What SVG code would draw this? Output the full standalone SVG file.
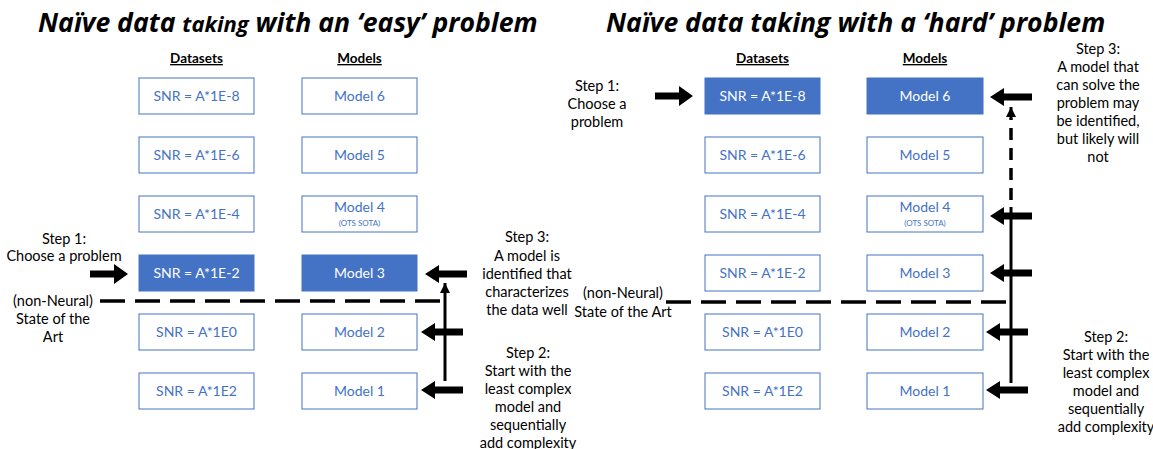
<svg xmlns="http://www.w3.org/2000/svg" width="1153" height="449" viewBox="0 0 1153 449">
  <style>
    .title { font-family: "Open Sans", "Noto Sans", sans-serif; font-weight: bold; font-style: italic; font-size: 26.6px; fill: #000; }
    .head { font-family: "Lato", "Open Sans", sans-serif; font-weight: bold; font-size: 13.5px; fill: #000; text-decoration: underline; text-anchor: middle; }
    .note { font-family: "Lato", "Open Sans", sans-serif; font-size: 14.5px; fill: #000; text-anchor: middle; }
    .box { fill: #fff; stroke: #4472C4; stroke-width: 1; }
    .box.on { fill: #4472C4; }
    .lbl { font-family: "Lato", "Open Sans", sans-serif; font-size: 14px; fill: #4472C4; text-anchor: middle; }
    .lbl.on { fill: #fff; }
    .small { font-family: "Lato", "Open Sans", sans-serif; font-size: 8px; fill: #4472C4; text-anchor: middle; }
    .dash { stroke: #000; stroke-width: 3.5; stroke-dasharray: 25 10; fill: none; }
    .vdash { stroke: #000; stroke-width: 3.5; stroke-dasharray: 12 8; fill: none; }
    .solid { stroke: #000; stroke-width: 3; fill: none; }
    .arrow { fill: #000; }
  </style>
  <defs>
    <!-- block arrow pointing left, tip at origin -->
    <polygon id="arrL" points="0,0 14,-9 14,-3.5 42,-3.5 42,3.5 14,3.5 14,9"/>
    <!-- block arrow pointing right, tip at origin -->
    <polygon id="arrR" points="0,0 -14,-10 -14,-3.5 -38,-3.5 -38,3.5 -14,3.5 -14,10"/>
    <!-- small head at the end of a climbing line -->
    <marker id="up" viewBox="0 0 10 10" refX="10" refY="5" markerWidth="10" markerHeight="10" markerUnits="userSpaceOnUse" orient="auto">
      <polygon points="0,0 10,5 0,10" fill="#000"/>
    </marker>
  </defs>

  <!-- titles -->
  <text class="title" x="38" y="32">Naïve data <tspan font-size="22">taking</tspan> with an ‘easy’ problem</text>
  <text class="title" x="606" y="32">Naïve data taking with a ‘hard’ problem</text>

  <!-- column headings -->
  <text class="head" x="196.5" y="63">Datasets</text>
  <text class="head" x="359.5" y="63">Models</text>
  <text class="head" x="762.5" y="63">Datasets</text>
  <text class="head" x="925" y="63">Models</text>

  <!-- left panel: datasets -->
  <g id="l-ds-8"><rect class="box" x="139" y="78" width="115" height="36"/><text class="lbl" x="196.5" y="101">SNR = A*1E-8</text></g>
  <g id="l-ds-6"><rect class="box" x="139" y="137" width="115" height="36"/><text class="lbl" x="196.5" y="160">SNR = A*1E-6</text></g>
  <g id="l-ds-4"><rect class="box" x="139" y="196" width="115" height="36"/><text class="lbl" x="196.5" y="219">SNR = A*1E-4</text></g>
  <g id="l-ds-2"><rect class="box on" x="139" y="255" width="115" height="36"/><text class="lbl on" x="196.5" y="278">SNR = A*1E-2</text></g>
  <g id="l-ds0"><rect class="box" x="139" y="314" width="115" height="36"/><text class="lbl" x="196.5" y="337">SNR = A*1E0</text></g>
  <g id="l-ds2"><rect class="box" x="139" y="373" width="115" height="36"/><text class="lbl" x="196.5" y="396">SNR = A*1E2</text></g>

  <!-- left panel: models -->
  <g id="l-m6"><rect class="box" x="302" y="78" width="115" height="36"/><text class="lbl" x="359.5" y="101">Model 6</text></g>
  <g id="l-m5"><rect class="box" x="302" y="137" width="115" height="36"/><text class="lbl" x="359.5" y="160">Model 5</text></g>
  <g id="l-m4"><rect class="box" x="302" y="196" width="115" height="36"/><text class="lbl" x="359.5" y="212">Model 4</text><text class="small" x="359.5" y="226">(OTS SOTA)</text></g>
  <g id="l-m3"><rect class="box on" x="302" y="255" width="115" height="36"/><text class="lbl on" x="359.5" y="278">Model 3</text></g>
  <g id="l-m2"><rect class="box" x="302" y="314" width="115" height="36"/><text class="lbl" x="359.5" y="337">Model 2</text></g>
  <g id="l-m1"><rect class="box" x="302" y="373" width="115" height="36"/><text class="lbl" x="359.5" y="396">Model 1</text></g>

  <!-- right panel: datasets -->
  <g id="r-ds-8"><rect class="box on" x="705" y="78" width="115" height="36"/><text class="lbl on" x="762.5" y="101">SNR = A*1E-8</text></g>
  <g id="r-ds-6"><rect class="box" x="705" y="137" width="115" height="36"/><text class="lbl" x="762.5" y="160">SNR = A*1E-6</text></g>
  <g id="r-ds-4"><rect class="box" x="705" y="196" width="115" height="36"/><text class="lbl" x="762.5" y="219">SNR = A*1E-4</text></g>
  <g id="r-ds-2"><rect class="box" x="705" y="255" width="115" height="36"/><text class="lbl" x="762.5" y="278">SNR = A*1E-2</text></g>
  <g id="r-ds0"><rect class="box" x="705" y="314" width="115" height="36"/><text class="lbl" x="762.5" y="337">SNR = A*1E0</text></g>
  <g id="r-ds2"><rect class="box" x="705" y="373" width="115" height="36"/><text class="lbl" x="762.5" y="396">SNR = A*1E2</text></g>

  <!-- right panel: models -->
  <g id="r-m6"><rect class="box on" x="867" y="78" width="116" height="36"/><text class="lbl on" x="925" y="101">Model 6</text></g>
  <g id="r-m5"><rect class="box" x="867" y="137" width="116" height="36"/><text class="lbl" x="925" y="160">Model 5</text></g>
  <g id="r-m4"><rect class="box" x="867" y="196" width="116" height="36"/><text class="lbl" x="925" y="212">Model 4</text><text class="small" x="925" y="226">(OTS SOTA)</text></g>
  <g id="r-m3"><rect class="box" x="867" y="255" width="116" height="36"/><text class="lbl" x="925" y="278">Model 3</text></g>
  <g id="r-m2"><rect class="box" x="867" y="314" width="116" height="36"/><text class="lbl" x="925" y="337">Model 2</text></g>
  <g id="r-m1"><rect class="box" x="867" y="373" width="116" height="36"/><text class="lbl" x="925" y="396">Model 1</text></g>

  <!-- annotations -->
  <g id="l-step1">
    <text class="note" x="64" y="244">Step 1:</text>
    <text class="note" x="64" y="261">Choose a problem</text>
  </g>
  <g id="l-sota">
    <text class="note" x="53" y="306">(non-Neural)</text>
    <text class="note" x="53" y="324">State of the</text>
    <text class="note" x="53" y="342">Art</text>
  </g>
  <g id="l-step3">
    <text class="note" x="527" y="242">Step 3:</text>
    <text class="note" x="527" y="261">A model is</text>
    <text class="note" x="527" y="279">identified that</text>
    <text class="note" x="527" y="297">characterizes</text>
    <text class="note" x="527" y="315">the data well</text>
  </g>
  <g id="l-step2">
    <text class="note" x="528" y="358">Step 2:</text>
    <text class="note" x="528" y="376">Start with the</text>
    <text class="note" x="528" y="394">least complex</text>
    <text class="note" x="528" y="412">model and</text>
    <text class="note" x="528" y="430">sequentially</text>
    <text class="note" x="528" y="448">add complexity</text>
  </g>
  <g id="r-step1">
    <text class="note" x="597" y="91">Step 1:</text>
    <text class="note" x="597" y="109">Choose a</text>
    <text class="note" x="597" y="127">problem</text>
  </g>
  <g id="r-sota">
    <text class="note" x="623" y="298">(non-Neural)</text>
    <text class="note" x="623" y="317">State of the Art</text>
  </g>
  <g id="r-step3">
    <text class="note" x="1098" y="54">Step 3:</text>
    <text class="note" x="1098" y="72">A model that</text>
    <text class="note" x="1098" y="90">can solve the</text>
    <text class="note" x="1098" y="108">problem may</text>
    <text class="note" x="1098" y="126">be identified,</text>
    <text class="note" x="1098" y="144">but likely will</text>
    <text class="note" x="1098" y="162">not</text>
  </g>
  <g id="r-step2">
    <text class="note" x="1106" y="342">Step 2:</text>
    <text class="note" x="1106" y="360">Start with the</text>
    <text class="note" x="1106" y="378">least complex</text>
    <text class="note" x="1106" y="396">model and</text>
    <text class="note" x="1106" y="414">sequentially</text>
    <text class="note" x="1106" y="432">add complexity</text>
  </g>

  <!-- connectors -->
  <g id="connectors">
    <!-- state-of-the-art thresholds -->
    <line class="dash" x1="100" y1="301" x2="445" y2="301"/>
    <line class="dash" x1="666" y1="302" x2="1011" y2="302"/>

    <!-- left: climb from Model 1 to Model 3 -->
    <line class="solid" x1="445" y1="381" x2="445" y2="283" marker-end="url(#up)"/>
    <use href="#arrR" class="arrow" x="128" y="274"/>
    <use href="#arrL" class="arrow" x="425" y="274"/>
    <use href="#arrL" class="arrow" x="421" y="332"/>
    <use href="#arrL" class="arrow" x="421" y="390"/>

    <!-- right: climb from Model 1 upward -->
    <line class="solid" x1="1011" y1="383" x2="1011" y2="207"/>
    <line class="vdash" x1="1011" y1="200" x2="1011" y2="118"/>
    <line class="solid" x1="1011" y1="118" x2="1011" y2="107" marker-end="url(#up)"/>
    <use href="#arrR" class="arrow" x="693" y="96"/>
    <use href="#arrL" class="arrow" x="990" y="97"/>
    <use href="#arrL" class="arrow" x="990" y="216"/>
    <use href="#arrL" class="arrow" x="990" y="273"/>
    <use href="#arrL" class="arrow" x="986" y="332"/>
    <use href="#arrL" class="arrow" x="986" y="390"/>
  </g>
</svg>
